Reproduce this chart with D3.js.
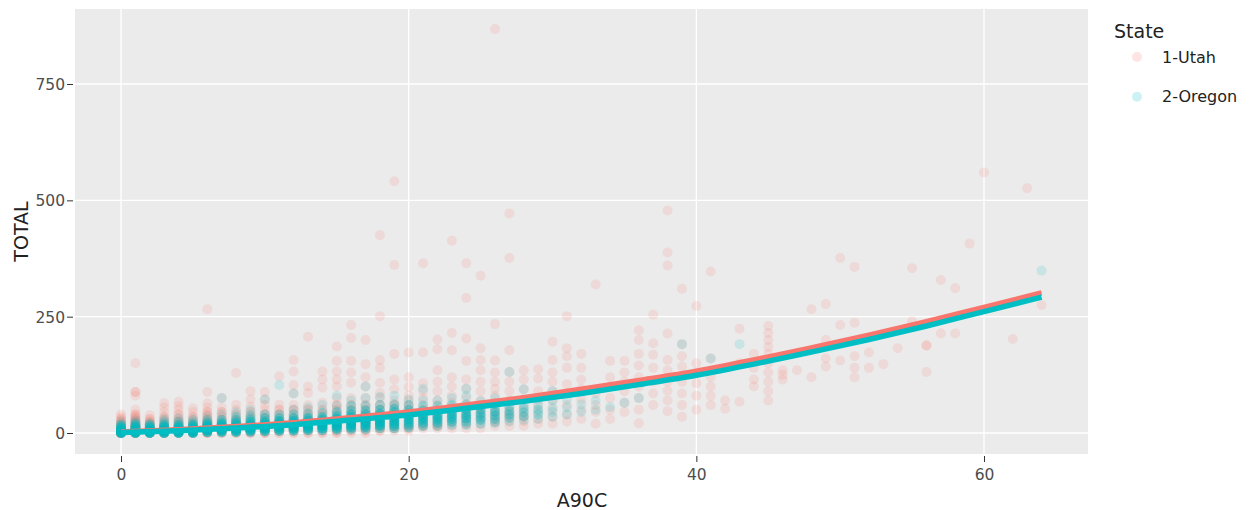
<!DOCTYPE html>
<html>
<head>
<meta charset="utf-8">
<script src="https://cdn.jsdelivr.net/npm/d3@7"></script>
<style>
  body { margin: 0; background: #fff; }
  svg { display: block; font-family: "DejaVu Sans", Verdana, sans-serif; }
</style>
</head>
<body>
<svg width="1258" height="510"></svg>
<script>
// legend / series
const states = ["1-Utah", "2-Oregon"];
const stateColors = ["#F8766D", "#00BFC4"];

const xTicks = [0, 20, 40, 60];
const yTicks = [0, 250, 500, 750];

// [A90C, TOTAL, how many points sit on that spot]
const utahPoints = [
  [0,0,6],[0,5,5],[0,10,4],[0,15,3],[0,20,3],[0,25,2],[0,30,2],[0,35,1],[0,40,1],
  [1,0,5],[1,5,5],[1,10,4],[1,15,4],[1,20,3],[1,25,3],[1,30,2],[1,35,2],[1,40,2],[1,50,1],[1,80,1],[1,88,2],[1,150,1],
  [2,0,5],[2,5,5],[2,10,4],[2,15,3],[2,20,3],[2,25,2],[2,30,2],[2,38,1],
  [3,0,5],[3,5,4],[3,10,4],[3,15,3],[3,20,3],[3,28,2],[3,35,2],[3,45,1],[3,55,1],[3,64,1],
  [4,0,4],[4,5,4],[4,10,4],[4,15,3],[4,20,3],[4,25,2],[4,30,2],[4,40,2],[4,50,1],[4,58,1],[4,67,1],
  [5,0,4],[5,5,4],[5,10,4],[5,15,3],[5,20,3],[5,28,2],[5,35,2],[5,45,1],[5,53,1],
  [6,0,4],[6,5,4],[6,10,4],[6,15,4],[6,20,3],[6,25,3],[6,30,2],[6,38,2],[6,45,2],[6,55,1],[6,64,1],[6,88,1],[6,266,1],
  [7,0,3],[7,5,4],[7,10,4],[7,15,3],[7,20,3],[7,28,2],[7,35,2],[7,45,2],[7,55,1],[7,75,1],
  [8,0,3],[8,5,3],[8,10,3],[8,15,3],[8,20,3],[8,25,3],[8,30,2],[8,40,2],[8,50,1],[8,61,1],[8,129,1],
  [9,0,3],[9,5,3],[9,10,3],[9,15,3],[9,20,3],[9,28,2],[9,35,2],[9,45,2],[9,57,1],[9,72,1],[9,90,1],
  [10,0,3],[10,5,3],[10,10,3],[10,15,3],[10,20,3],[10,25,3],[10,32,2],[10,40,2],[10,50,1],[10,60,1],[10,72,1],[10,88,1],
  [11,0,2],[11,5,3],[11,10,3],[11,15,3],[11,20,3],[11,25,3],[11,30,2],[11,40,2],[11,50,2],[11,61,1],[11,122,1],
  [12,0,2],[12,5,2],[12,10,3],[12,15,3],[12,20,3],[12,25,3],[12,30,3],[12,40,2],[12,50,2],[12,60,1],[12,85,1],[12,103,1],[12,132,1],[12,157,1],
  [13,0,2],[13,5,2],[13,10,3],[13,15,3],[13,20,3],[13,25,3],[13,30,3],[13,40,2],[13,50,2],[13,60,1],[13,86,1],[13,100,1],[13,207,1],
  [14,0,2],[14,5,2],[14,10,2],[14,15,3],[14,20,3],[14,25,3],[14,30,3],[14,40,2],[14,50,2],[14,65,1],[14,98,1],[14,115,1],[14,132,1],
  [15,0,2],[15,5,2],[15,10,2],[15,15,2],[15,20,3],[15,25,3],[15,30,3],[15,40,2],[15,50,2],[15,60,2],[15,75,1],[15,100,1],[15,115,1],[15,132,1],[15,155,1],[15,186,1],
  [16,0,1],[16,5,2],[16,10,2],[16,15,2],[16,20,3],[16,25,3],[16,30,3],[16,40,2],[16,50,2],[16,60,2],[16,75,1],[16,108,1],[16,130,1],[16,155,1],[16,204,1],[16,232,1],
  [17,0,1],[17,5,2],[17,10,2],[17,15,2],[17,20,2],[17,25,3],[17,30,3],[17,40,3],[17,50,2],[17,60,2],[17,75,1],[17,100,1],[17,120,1],[17,148,1],[17,200,1],
  [18,5,2],[18,10,2],[18,15,2],[18,20,2],[18,25,2],[18,30,3],[18,40,3],[18,50,2],[18,60,2],[18,75,1],[18,86,1],[18,108,1],[18,140,1],[18,157,1],[18,251,1],[18,425,1],
  [19,5,1],[19,10,2],[19,15,2],[19,20,2],[19,25,2],[19,30,2],[19,40,3],[19,50,2],[19,60,2],[19,70,1],[19,94,1],[19,115,1],[19,170,1],[19,361,1],[19,541,1],
  [20,5,1],[20,10,2],[20,15,2],[20,20,2],[20,30,2],[20,40,2],[20,50,2],[20,60,2],[20,70,1],[20,80,1],[20,99,1],[20,120,1],[20,173,1],
  [21,10,1],[21,15,2],[21,20,2],[21,30,2],[21,40,2],[21,50,2],[21,60,1],[21,75,1],[21,90,1],[21,107,1],[21,173,1],[21,365,1],
  [22,10,1],[22,15,2],[22,20,2],[22,30,2],[22,40,2],[22,50,2],[22,60,1],[22,70,1],[22,90,1],[22,110,1],[22,135,1],[22,180,1],[22,201,1],
  [23,10,1],[23,15,1],[23,25,2],[23,35,2],[23,45,2],[23,55,2],[23,65,1],[23,80,1],[23,100,1],[23,120,1],[23,178,1],[23,215,1],[23,413,1],
  [24,10,1],[24,20,2],[24,30,2],[24,40,2],[24,50,2],[24,60,1],[24,75,1],[24,95,1],[24,115,1],[24,155,1],[24,203,1],[24,290,1],[24,365,1],
  [25,10,1],[25,20,1],[25,30,2],[25,40,2],[25,50,2],[25,60,1],[25,70,1],[25,90,1],[25,110,1],[25,135,1],[25,157,1],[25,182,1],[25,338,1],
  [26,15,1],[26,25,2],[26,35,2],[26,45,2],[26,55,1],[26,65,1],[26,80,1],[26,95,1],[26,110,1],[26,130,1],[26,156,1],[26,234,1],[26,868,1],
  [27,15,1],[27,25,1],[27,35,2],[27,45,2],[27,55,1],[27,70,1],[27,90,1],[27,110,1],[27,131,1],[27,178,1],[27,376,1],[27,472,1],
  [28,15,1],[28,25,1],[28,35,2],[28,45,1],[28,55,1],[28,72,1],[28,94,1],[28,115,1],[28,135,1],
  [29,20,1],[29,30,1],[29,45,1],[29,60,1],[29,75,1],[29,90,1],[29,117,1],[29,137,1],
  [30,20,1],[30,35,1],[30,50,1],[30,70,1],[30,90,1],[30,110,1],[30,130,1],[30,157,1],[30,196,1],
  [31,25,1],[31,40,1],[31,60,1],[31,85,1],[31,105,1],[31,140,1],[31,165,1],[31,182,1],[31,251,1],
  [32,30,1],[32,50,1],[32,72,1],[32,95,1],[32,115,1],[32,140,1],[32,170,1],
  [33,20,1],[33,45,1],[33,60,1],[33,85,1],[33,319,1],
  [34,30,1],[34,50,1],[34,75,1],[34,100,1],[34,120,1],[34,155,1],
  [35,45,1],[35,65,1],[35,90,1],[35,110,1],[35,130,1],[35,155,1],
  [36,21,1],[36,50,1],[36,75,1],[36,100,1],[36,120,1],[36,145,1],[36,170,1],[36,200,1],[36,221,1],
  [37,60,1],[37,85,1],[37,110,1],[37,140,1],[37,168,1],[37,193,1],[37,254,1],
  [38,47,1],[38,70,1],[38,91,1],[38,110,1],[38,135,1],[38,157,1],[38,214,1],[38,360,1],[38,388,1],[38,478,1],
  [39,35,1],[39,60,1],[39,85,1],[39,110,1],[39,143,1],[39,165,1],[39,191,1],[39,310,1],
  [40,50,1],[40,80,1],[40,107,1],[40,130,1],[40,150,1],[40,273,1],
  [41,60,1],[41,80,1],[41,100,1],[41,120,1],[41,160,1],[41,347,1],
  [42,52,1],[42,70,1],
  [43,67,1],[43,150,1],[43,224,1],
  [44,100,1],[44,115,1],[44,140,1],[44,170,1],
  [45,70,1],[45,90,1],[45,110,1],[45,130,1],[45,150,1],[45,170,1],[45,185,1],[45,200,1],[45,215,1],[45,230,1],
  [46,115,1],[46,125,1],[46,135,1],
  [47,135,1],
  [48,120,1],[48,266,1],
  [49,143,1],[49,160,1],[49,200,1],[49,277,1],
  [50,156,1],[50,232,1],[50,376,1],
  [51,120,1],[51,140,1],[51,165,1],[51,237,1],[51,357,1],
  [52,140,1],[52,173,1],
  [53,148,1],
  [54,182,1],
  [55,240,1],[55,354,1],
  [56,131,1],[56,188,2],
  [57,214,1],[57,329,1],
  [58,214,1],[58,311,1],
  [59,407,1],
  [60,560,1],
  [62,202,1],
  [63,526,1],
  [64,275,1]
];

const oregonPoints = [
  [0,0,12],[0,3,10],[0,6,8],[0,10,6],[0,14,4],[0,18,3],[0,25,1],
  [1,0,10],[1,3,10],[1,6,8],[1,10,6],[1,14,5],[1,18,3],[1,22,2],[1,28,1],
  [2,0,10],[2,3,9],[2,6,8],[2,10,6],[2,14,4],[2,18,3],[2,22,1],
  [3,0,9],[3,3,9],[3,6,8],[3,10,6],[3,14,5],[3,18,3],[3,24,2],[3,30,1],
  [4,0,9],[4,3,9],[4,6,8],[4,10,6],[4,14,5],[4,18,3],[4,24,2],[4,32,1],
  [5,0,8],[5,3,9],[5,6,8],[5,10,7],[5,14,5],[5,18,4],[5,24,2],[5,30,1],
  [6,2,8],[6,6,8],[6,10,8],[6,14,6],[6,18,5],[6,22,3],[6,28,2],[6,35,1],
  [7,2,7],[7,6,8],[7,10,8],[7,14,6],[7,18,5],[7,22,4],[7,28,3],[7,40,1],[7,75,1],
  [8,2,7],[8,6,8],[8,10,8],[8,14,7],[8,18,5],[8,22,4],[8,28,3],[8,35,2],[8,45,1],
  [9,3,6],[9,7,8],[9,11,8],[9,15,7],[9,19,6],[9,24,4],[9,30,3],[9,38,2],[9,50,1],
  [10,4,6],[10,8,7],[10,12,8],[10,16,7],[10,20,6],[10,25,4],[10,32,3],[10,40,2],[10,72,1],
  [11,5,6],[11,9,7],[11,13,8],[11,17,7],[11,21,6],[11,26,5],[11,32,3],[11,40,2],[11,103,1],
  [12,5,5],[12,9,7],[12,13,8],[12,17,7],[12,21,6],[12,26,5],[12,32,4],[12,40,2],[12,50,1],[12,85,1],
  [13,6,5],[13,10,6],[13,14,7],[13,18,7],[13,22,6],[13,27,5],[13,33,4],[13,42,2],[13,55,1],
  [14,6,4],[14,10,6],[14,14,7],[14,18,7],[14,23,6],[14,28,5],[14,34,4],[14,44,2],[14,60,1],
  [15,7,4],[15,11,5],[15,15,7],[15,20,7],[15,25,6],[15,30,5],[15,36,4],[15,45,3],[15,58,1],[15,80,1],
  [16,8,4],[16,13,6],[16,18,7],[16,23,7],[16,28,6],[16,34,5],[16,40,4],[16,48,3],[16,58,2],[16,70,1],
  [17,8,3],[17,13,5],[17,18,6],[17,23,7],[17,28,6],[17,34,5],[17,40,4],[17,48,3],[17,58,2],[17,75,1],[17,100,1],
  [18,10,3],[18,15,5],[18,20,6],[18,25,6],[18,30,6],[18,36,5],[18,42,4],[18,50,3],[18,60,2],[18,78,1],
  [19,10,3],[19,15,4],[19,20,5],[19,26,6],[19,32,6],[19,38,5],[19,45,4],[19,52,3],[19,62,2],[19,80,1],
  [20,12,3],[20,18,4],[20,24,5],[20,30,5],[20,36,5],[20,42,4],[20,50,3],[20,60,2],[20,72,1],
  [21,15,3],[21,22,4],[21,28,5],[21,34,5],[21,40,4],[21,48,3],[21,58,2],[21,70,1],[21,95,1],
  [22,15,2],[22,22,4],[22,28,4],[22,34,5],[22,40,4],[22,48,3],[22,58,2],[22,70,1],
  [23,18,2],[23,24,3],[23,30,4],[23,36,4],[23,42,4],[23,50,3],[23,60,2],[23,75,1],
  [24,18,2],[24,25,3],[24,32,4],[24,38,4],[24,45,3],[24,52,3],[24,62,2],[24,80,1],[24,95,1],
  [25,20,2],[25,28,3],[25,35,3],[25,42,3],[25,50,3],[25,58,2],[25,68,1],
  [26,22,2],[26,30,3],[26,38,3],[26,45,3],[26,52,2],[26,62,2],[26,75,1],
  [27,25,1],[27,32,2],[27,40,3],[27,48,2],[27,56,2],[27,68,1],[27,131,1],
  [28,28,1],[28,36,2],[28,44,2],[28,52,2],[28,60,1],[28,72,1],[28,94,1],
  [29,30,1],[29,40,2],[29,50,2],[29,60,1],[29,72,1],
  [30,35,1],[30,45,1],[30,55,1],[30,70,1],[30,90,1],
  [31,40,1],[31,55,1],[31,72,1],
  [32,45,1],[32,62,1],
  [33,50,1],[33,70,1],
  [34,56,1],
  [35,65,1],
  [36,75,1],
  [39,191,1],
  [41,160,1],
  [43,191,1],
  [64,349,1]
];

// smoothed fits
const fitX = [0, 4, 8, 12, 16, 20, 24, 28, 32, 36, 40, 44, 48, 52, 56, 60, 64];
const utahFit = [2, 7, 14, 22, 33, 45, 60, 76, 94, 113, 133, 157, 183, 210, 239, 270, 301];
const oregonFit = [1, 5, 11, 18, 28, 39, 53, 68, 85, 104, 124, 148, 174, 201, 230, 261, 292];

const svg = d3.select("svg");
const margin = { left: 75, top: 9, right: 1088, bottom: 454 };

const x = d3.scaleLinear().domain([-3.2, 67.23]).range([margin.left, margin.right]);
const y = d3.scaleLinear().domain([-45.1, 911.2]).range([margin.bottom, margin.top]);

svg.append("rect")
    .attr("x", margin.left).attr("y", margin.top)
    .attr("width", margin.right - margin.left)
    .attr("height", margin.bottom - margin.top)
    .attr("fill", "#EBEBEB");

// grid
const grid = svg.append("g").attr("stroke", "#fff").attr("stroke-width", 1.3);
grid.selectAll(".gx").data(xTicks).enter().append("line")
    .attr("x1", d => x(d)).attr("x2", d => x(d))
    .attr("y1", margin.top).attr("y2", margin.bottom);
grid.selectAll(".gy").data(yTicks).enter().append("line")
    .attr("y1", d => y(d)).attr("y2", d => y(d))
    .attr("x1", margin.left).attr("x2", margin.right);

// axes
const xAxis = svg.append("g")
    .attr("transform", `translate(0,${margin.bottom + 2})`)
    .call(d3.axisBottom(x).tickValues(xTicks).tickSize(6).tickFormat(d3.format("d")));
const yAxis = svg.append("g")
    .attr("transform", `translate(${margin.left - 2},0)`)
    .call(d3.axisLeft(y).tickValues(yTicks).tickSize(6).tickPadding(2).tickFormat(d3.format("d")));
[xAxis, yAxis].forEach(a => {
    a.select(".domain").remove();
    a.selectAll("line").attr("stroke", "#333").attr("stroke-width", 1);
    a.selectAll("text").attr("fill", "#4D4D4D").style("font-size", "15.5px")
        .style("font-family", "'DejaVu Sans', sans-serif");
});
xAxis.selectAll("text").attr("y", 24).attr("dy", null);
yAxis.selectAll("text").attr("dy", "0.36em");

svg.append("text")
    .attr("x", (margin.left + margin.right) / 2 + 0.5).attr("y", 507)
    .attr("text-anchor", "middle")
    .style("font-size", "19px").attr("fill", "#222")
    .text("A90C");
svg.append("text")
    .attr("transform", `translate(28,${(margin.top + margin.bottom) / 2}) rotate(-90)`)
    .attr("text-anchor", "middle")
    .style("font-size", "19px").attr("fill", "#222")
    .text("TOTAL");

// points
svg.append("clipPath").attr("id", "panel")
    .append("rect")
    .attr("x", margin.left).attr("y", margin.top)
    .attr("width", margin.right - margin.left)
    .attr("height", margin.bottom - margin.top);

const expand = pts => pts.flatMap(([a, b, n]) => d3.range(n).map(() => [a, b]));

const dots = svg.append("g").attr("clip-path", "url(#panel)");
[utahPoints, oregonPoints].forEach((pts, i) => {
    dots.append("g").selectAll("circle")
        .data(expand(pts))
        .enter().append("circle")
        .attr("cx", d => x(d[0]))
        .attr("cy", d => y(d[1]))
        .attr("r", 5)
        .attr("fill", stateColors[i])
        .attr("fill-opacity", 0.15);
});

// smoothing lines
const line = d3.line()
    .x((d, i) => x(fitX[i]))
    .y(d => y(d))
    .curve(d3.curveMonotoneX);
[utahFit, oregonFit].forEach((fit, i) => {
    dots.append("path")
        .attr("d", line(fit))
        .attr("fill", "none")
        .attr("stroke", stateColors[i])
        .attr("stroke-width", 5.5);
});

// legend
const legend = svg.append("g");
legend.append("text")
    .attr("x", 1114).attr("y", 38)
    .style("font-size", "19px").attr("fill", "#222")
    .text("State");
const items = legend.selectAll(".item").data(states).enter().append("g")
    .attr("transform", (d, i) => `translate(0,${57 + i * 39.7})`);
items.append("circle")
    .attr("cx", 1137).attr("cy", 0).attr("r", 5)
    .attr("fill", (d, i) => stateColors[i])
    .attr("fill-opacity", 0.2);
items.append("text")
    .attr("x", 1162).attr("y", 0).attr("dy", "0.36em")
    .style("font-size", "16px").attr("fill", "#222")
    .text(d => d);
</script>
</body>
</html>
